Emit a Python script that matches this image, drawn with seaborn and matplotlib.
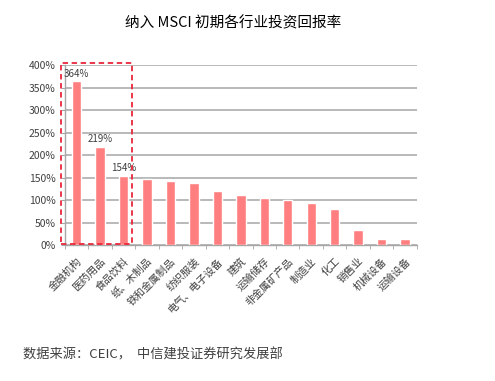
import pandas as pd
import seaborn as sns
import matplotlib.pyplot as plt
from matplotlib.patches import Rectangle
from matplotlib.ticker import FuncFormatter

industries = ['金融机构', '医药用品', '食品饮料', '纸、木制品', '铁和金属制品', '纺织服装',
              '电气、电子设备', '建筑', '运输储存', '非金属矿产品', '制造业', '化工',
              '销售业', '机械设备', '运输设备']
returns = [364, 219, 154, 146, 143, 137, 121, 111, 105, 100, 94, 81, 33, 13, 13]
labelled = [0, 1, 2]

df = pd.DataFrame({'industry': industries, 'ret': returns})

sns.set_style('white')
plt.rcParams['font.family'] = ['Noto Sans CJK SC', 'DejaVu Sans']
plt.rcParams['axes.unicode_minus'] = False

fig = plt.figure(figsize=(4.95, 3.81), dpi=100)
ax = fig.add_axes([0.131, 0.357, 0.711, 0.472])

sns.barplot(data=df, x='industry', y='ret', color='#FF7F80', saturation=1,
            width=0.4, ax=ax, zorder=3)

ax.set_ylim(0, 400)
ax.set_xlim(-0.5, len(industries) - 0.5)
ax.set_yticks(range(0, 401, 50))
ax.yaxis.set_major_formatter(FuncFormatter(lambda v, p: '{:d}%'.format(int(v))))
ax.yaxis.grid(True, color='#A6A6A6', linewidth=1.1, zorder=0)
ax.set_axisbelow(True)
ax.set_xlabel('')
ax.set_ylabel('')

for s in ['top', 'right']:
    ax.spines[s].set_visible(False)
for s in ['left', 'bottom']:
    ax.spines[s].set_color('#A6A6A6')
    ax.spines[s].set_linewidth(1.0)

ax.tick_params(axis='y', labelsize=7.5, colors='#404040', length=3, color='#A6A6A6', left=True)
ax.set_xticks([i - 0.5 for i in range(len(industries) + 1)], minor=True)
ax.tick_params(axis='x', which='minor', length=3, color='#A6A6A6', bottom=True)
ax.tick_params(axis='x', which='major', length=0, labelsize=7.5, colors='#404040', pad=8)
ax.set_xticks(range(len(industries)))
ax.set_xticklabels(industries, rotation=45, ha='right', rotation_mode='anchor')

for i in labelled:
    ax.annotate('{}%'.format(returns[i]), (i, returns[i]), xytext=(0, 2),
                textcoords='offset points', ha='center', va='bottom',
                fontsize=7, color='#404040', zorder=5)

ax.add_patch(Rectangle((-0.67, 2), 3.02, 402, fill=False, edgecolor='#E8283C',
                       linestyle=(0, (3, 2)), linewidth=1.3, clip_on=False, zorder=6))

fig.text(0.47, 0.94, '纳入 MSCI 初期各行业投资回报率', ha='center', va='center',
         fontsize=10.5, color='#000000')
fig.text(0.047, 0.068, '数据来源：CEIC，  中信建投证券研究发展部', ha='left', va='center',
         fontsize=9.5, color='#404040', style='italic')

fig.savefig('out.png', dpi=100)
